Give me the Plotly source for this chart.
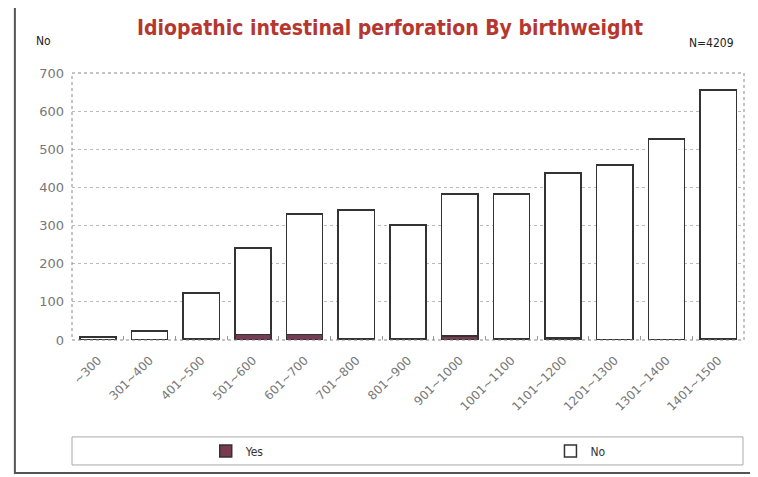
import plotly.graph_objects as go

categories = ["∼300", "301∼400", "401∼500", "501∼600", "601∼700", "701∼800", "801∼900",
              "901∼1000", "1001∼1100", "1101∼1200", "1201∼1300", "1301∼1400", "1401∼1500"]
yes_values = [0, 0, 3, 15, 15, 3, 3, 10, 3, 5, 1, 1, 2]
no_values = [8, 23, 120, 226, 316, 338, 299, 373, 380, 433, 458, 526, 654]
y_ticks = [0, 100, 200, 300, 400, 500, 600, 700]

fig = go.Figure()
fig.add_trace(go.Bar(x=categories, y=yes_values, name="Yes", legend="legend",
                     marker=dict(color="#7a3a52", line=dict(color="#333333", width=1.5))))
fig.add_trace(go.Bar(x=categories, y=no_values, name="No", legend="legend2",
                     marker=dict(color="white", line=dict(color="#333333", width=1.5))))

leg_common = dict(orientation="h", yanchor="middle", xanchor="left", y=-0.416,
                  itemwidth=30, bgcolor="rgba(0,0,0,0)",
                  font=dict(family="DejaVu Sans Condensed", size=12, color="#333333"))

fig.update_layout(
    barmode="stack",
    bargap=0.3,
    width=750, height=469,
    margin=dict(l=64, r=14, t=65, b=137, autoexpand=False),
    paper_bgcolor="white", plot_bgcolor="white",
    font=dict(family="DejaVu Sans", color="#555555", size=11),
    showlegend=True,
    legend=dict(x=0.199, **leg_common),
    legend2=dict(x=0.712, **leg_common),
    xaxis=dict(tickangle=-45, showgrid=False, showline=False, ticks="inside",
               tickson="boundaries", ticklen=4, tickcolor="#999999", automargin=False,
               ticklabelstandoff=10,
               tickfont=dict(size=12, color="#777777")),
    yaxis=dict(range=[0, 700], tickvals=y_ticks, showgrid=True, gridcolor="#bbbbbb",
               griddash="dot", zeroline=False, showline=False, automargin=False,
               ticklabelstandoff=7,
               tickfont=dict(size=13, color="#777777")),
    shapes=[
        dict(type="rect", xref="paper", yref="paper", x0=0, x1=1, y0=0, y1=1,
             line=dict(color="#888888", width=1, dash="dot")),
        dict(type="rect", xref="paper", yref="paper", x0=0, x1=0.9985, y0=-0.468, y1=-0.363,
             line=dict(color="#aaaaaa", width=1)),
        dict(type="rect", xref="paper", yref="paper", x0=-0.085, x1=1.05, y0=-0.498, y1=1.262,
             line=dict(color="#555555", width=2)),
    ],
    annotations=[
        dict(text="<b>Idiopathic intestinal perforation By birthweight</b>", xref="paper", yref="paper",
             x=0.473, y=1.169, xanchor="center", yanchor="middle", showarrow=False,
             font=dict(family="DejaVu Sans Condensed", size=21, color="#b5372f")),
        dict(text="No", xref="paper", yref="paper", x=-0.042, y=1.12, xanchor="center",
             yanchor="middle", showarrow=False,
             font=dict(family="DejaVu Sans Condensed", size=12, color="#222222")),
        dict(text="N=4209", xref="paper", yref="paper", x=0.951, y=1.112, xanchor="center",
             yanchor="middle", showarrow=False,
             font=dict(family="DejaVu Sans Condensed", size=12, color="#222222")),
    ],
)

fig.write_html("out.html")
